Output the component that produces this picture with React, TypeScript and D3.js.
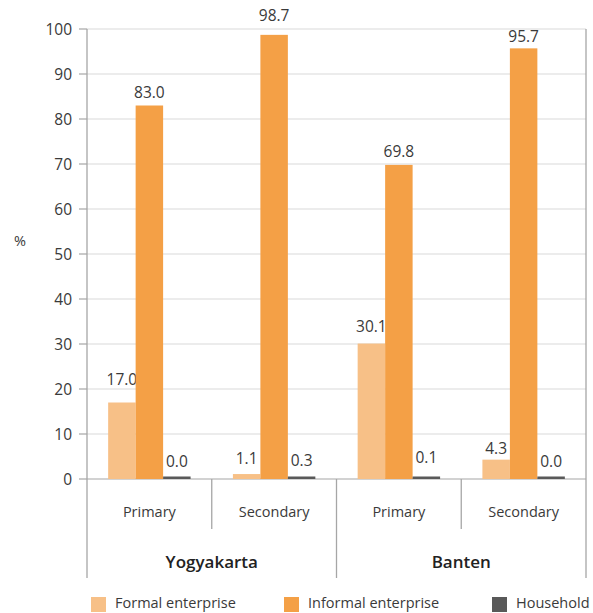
import React from "react";
import * as d3 from "d3";

const regions = ["Yogyakarta", "Banten"];
const levels = ["Primary", "Secondary"];
const seriesNames = ["Formal enterprise", "Informal enterprise", "Household"];
const formalValues = [17.0, 1.1, 30.1, 4.3];
const informalValues = [83.0, 98.7, 69.8, 95.7];
const householdValues = [0.0, 0.3, 0.1, 0.0];
const yTicks = [0, 10, 20, 30, 40, 50, 60, 70, 80, 90, 100];
const colors = ["#F7C087", "#F4A046", "#595959"];

const W = 593;
const H = 613;
const FONT = "'Open Sans', 'Noto Sans', sans-serif";

// label placement gaps (px between label baseline and bar top), as placed in the original
const labelGaps = [
  [18, 10.5, 12, 6],
  [8, 14, 8.3, 6.6],
  [10, 11, 14, 10],
];

export default function App() {
  const left = 87;
  const right = 586;
  const top = 29;
  const bottom = 479;
  const categories = regions.flatMap((r) => levels.map((l) => `${r}|${l}`));
  const x = d3.scaleBand<string>().domain(categories).range([left, right]).padding(0);
  const y = d3.scaleLinear().domain([0, 100]).range([bottom, top]);
  const series = [formalValues, informalValues, householdValues];
  const inner = d3
    .scaleBand<number>()
    .domain([0, 1, 2])
    .range([0, x.bandwidth()])
    .paddingOuter(0.77)
    .paddingInner(0);

  const groupWidth = x.bandwidth() * levels.length;

  return (
    <svg width={W} height={H} style={{ position: "absolute", left: 0, top: 0, fontFamily: FONT }}>
      {yTicks.map((t) => (
        <line key={"g" + t} x1={left} x2={right} y1={y(t)} y2={y(t)} stroke={t === 0 ? "#a6a6a6" : "#d9d9d9"} strokeWidth={1.2} />
      ))}
      {yTicks.map((t) => (
        <g key={"t" + t}>
          <line x1={left - 8} x2={left} y1={y(t)} y2={y(t)} stroke="#a6a6a6" strokeWidth={1.2} />
          <text x={72} y={y(t)} dy="0.36em" textAnchor="end" fontSize={15.5} fill="#3a3a3a">
            {t}
          </text>
        </g>
      ))}
      <text x={20} y={241} dy="0.35em" textAnchor="middle" fontSize={14.5} fill="#3a3a3a">
        %
      </text>
      <line x1={left} x2={left} y1={top} y2={578} stroke="#a6a6a6" strokeWidth={1.3} />
      <line x1={right} x2={right} y1={top} y2={578} stroke="#a6a6a6" strokeWidth={1.3} />
      {categories.map((c, ci) =>
        series.map((vals, si) => {
          const v = vals[ci];
          const bx = (x(c) as number) + (inner(si) as number);
          const bw = inner.bandwidth();
          const h = Math.max(bottom - y(v), si === 2 ? 2.5 : 0);
          return (
            <g key={c + si}>
              <rect x={bx} y={bottom - h} width={bw} height={h} fill={colors[si]} />
              <text x={bx + bw / 2} y={bottom - h - labelGaps[si][ci]} textAnchor="middle" fontSize={15.5} fill="#3a3a3a">
                {v.toFixed(1)}
              </text>
            </g>
          );
        })
      )}
      {categories.map((c) => {
        const cx = (x(c) as number) + x.bandwidth() / 2;
        return (
          <text key={"cl" + c} x={cx} y={512} dy="0.35em" textAnchor="middle" fontSize={14.5} fill="#3a3a3a">
            {c.split("|")[1]}
          </text>
        );
      })}
      {categories.slice(1).map((c, ci) => {
        const sx = x(c) as number;
        const isGroup = (ci + 1) % levels.length === 0;
        return <line key={"s" + c} x1={sx} x2={sx} y1={bottom} y2={isGroup ? 578 : 529} stroke="#a6a6a6" strokeWidth={1.3} />;
      })}
      {regions.map((r, ri) => (
        <text key={r} x={left + groupWidth * ri + groupWidth / 2} y={562} dy="0.35em" textAnchor="middle" fontSize={17} fontWeight={600} fill="#222">
          {r}
        </text>
      ))}
      {seriesNames.map((s, si) => {
        const lx = [91, 284, 492][si];
        return (
          <g key={s}>
            <rect x={lx} y={597} width={15} height={15} fill={colors[si]} />
            <text x={lx + 24} y={603} dy="0.35em" fontSize={14.5} fill="#3a3a3a">
              {s}
            </text>
          </g>
        );
      })}
    </svg>
  );
}
